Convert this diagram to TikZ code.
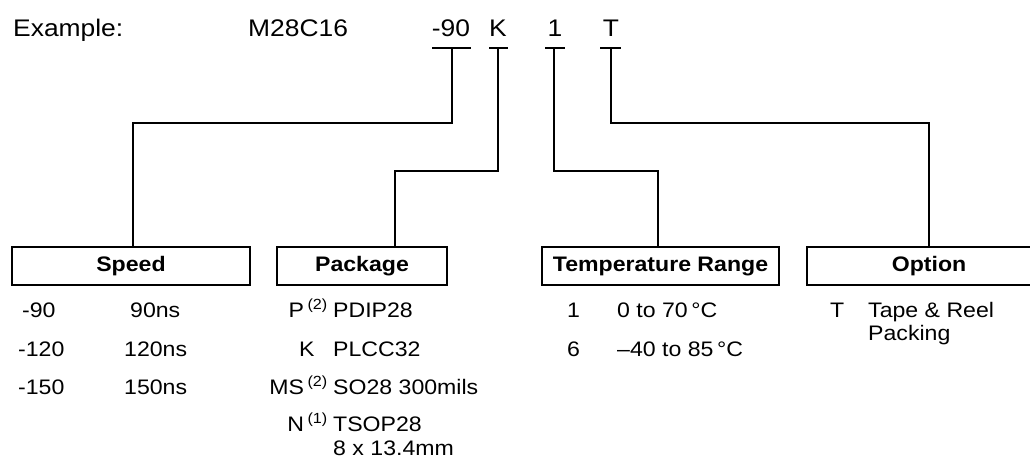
\documentclass[tikz,border=0pt]{standalone}
\usepackage{fontspec}
\setmainfont{Liberation Sans}[FakeStretch=1.1]
\begin{document}
\begin{tikzpicture}[x=1pt,y=-1pt,
		txt/.style={inner sep=0pt, anchor=base west, font=\fontsize{21}{24}\selectfont},
		code/.style={txt, anchor=base east},
		big/.style={inner sep=0pt, anchor=base, font=\fontsize{24}{28}\selectfont},
		hdr/.style={draw, line width=2pt, inner sep=0pt, minimum height=38pt, font=\fontsize{21}{24}\selectfont\bfseries},
		bar/.style={line width=2.5pt},
		lead/.style={line width=2pt}]
		\useasboundingbox (0,0) rectangle (1030,458);
		\node[big, anchor=base west] (ex) at (13,36) {Example:};
		\node[big, anchor=base west] (part) at (248,36) {M28C16};
		\node[big] (n90) at (451,36) {-90};
		\node[big] (nK) at (498,36) {K};
		\node[big] (n1) at (555,36) {1};
		\node[big] (nT) at (611,36) {T};
		\coordinate (t90) at (452,48);
		\coordinate (tK) at (498,48);
		\coordinate (t1) at (554,48);
		\coordinate (tT) at (611,48);
		\draw[bar] (432,48) -- (471,48);
		\draw[bar] (489,48) -- (508,48);
		\draw[bar] (545,48) -- (565,48);
		\draw[bar] (600,48) -- (621,48);
		\node[hdr, minimum width=238pt] (speed) at (131,266) {Speed};
		\node[hdr, minimum width=170pt] (pack) at (362,266) {Package};
		\node[hdr, minimum width=237pt] (temp) at (660.5,266) {Temperature Range};
		\node[hdr, minimum width=244pt] (opt) at (929,266) {Option};
		\coordinate (j90) at (133,123);
		\coordinate (jK) at (395,171);
		\coordinate (j1) at (658,171);
		\coordinate (jT) at (929,123);
		\draw[lead] (t90) |- (j90) -- (j90 |- speed.north);
		\draw[lead] (tK) |- (jK) -- (jK |- pack.north);
		\draw[lead] (t1) |- (j1) -- (j1 |- temp.north);
		\draw[lead] (tT) |- (jT) -- (jT |- opt.north);
		\node[txt] (s1) at (22,317) {-90};
		\node[txt] (s1v) at (130,317) {90ns};
		\node[txt] (s2) at (18,356) {-120};
		\node[txt] (s2v) at (124,356) {120ns};
		\node[txt] (s3) at (18,394) {-150};
		\node[txt] (s3v) at (124,394) {150ns};
		\node[code] (p1) at (328,317) {P\,\textsuperscript{(2)}};
		\node[txt] (p1v) at (333,317) {PDIP28};
		\node[txt] (p2) at (299,356) {K};
		\node[txt] (p2v) at (333,356) {PLCC32};
		\node[code] (p3) at (328,394) {MS\,\textsuperscript{(2)}};
		\node[txt] (p3v) at (333,394) {SO28 300mils};
		\node[code] (p4) at (328,431) {N\,\textsuperscript{(1)}};
		\node[txt] (p4v) at (333,431) {TSOP28};
		\node[txt] (p4w) at (333,455) {8 x 13.4mm};
		\node[txt] (r1) at (567,317) {1};
		\node[txt] (r1v) at (617,317) {0 to 70\,°C};
		\node[txt] (r2) at (567,356) {6};
		\node[txt] (r2v) at (617,356) {–40 to 85\,°C};
		\node[txt] (o1) at (830,317) {T};
		\node[txt] (o1v) at (868,317) {Tape \& Reel};
		\node[txt] (o1w) at (868,340) {Packing};
	\end{tikzpicture}
\end{document}
